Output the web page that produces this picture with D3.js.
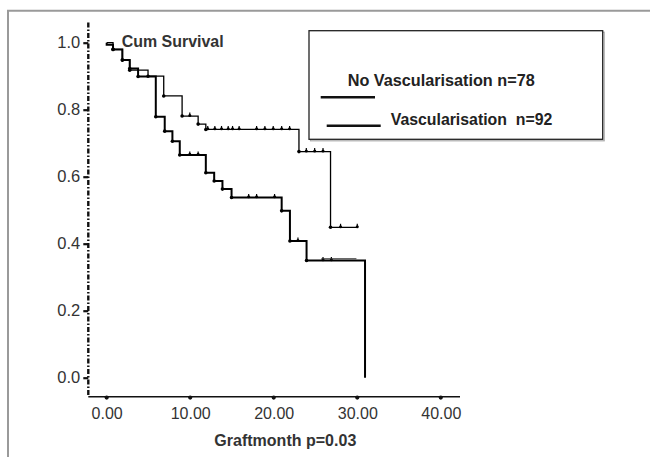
<!DOCTYPE html>
<html>
<head>
<meta charset="utf-8">
<script src="https://cdn.jsdelivr.net/npm/d3@7"></script>
<style>
  html, body { margin: 0; padding: 0; background: #fff; }
  svg { display: block; }
  text { font-family: "Liberation Sans", Arial, sans-serif; }
</style>
</head>
<body>
<svg id="chart" width="650" height="457"></svg>
<script>
// Kaplan–Meier survival by graft month

// Vascularisation group (n=92): step times and survival after each step
const vascTimes = [0, 0.76, 1.88, 2.76, 4.95, 6.83, 9.03, 10.95, 11.87, 23.02, 26.8];
const vascSurv  = [1.0, 0.980, 0.948, 0.918, 0.900, 0.841, 0.781, 0.757, 0.741, 0.675, 0.449];
const vascEnd = 30.0;
const vascCensored = [9.95, 12.1, 12.95, 13.75, 14.55, 15.07, 15.86, 17.95, 18.94, 19.94, 20.95, 21.9,
                      23.9, 24.9, 25.9, 28.0, 30.0];

// No vascularisation group (n=78)
const noVascTimes = [0, 0.76, 1.88, 2.76, 3.76, 5.88, 6.95, 7.87, 8.75, 11.87, 12.87, 13.86, 14.95,
                     20.95, 21.94, 23.93, 30.93];
const noVascSurv  = [0.994, 0.980, 0.948, 0.923, 0.899, 0.779, 0.736, 0.706, 0.665, 0.612, 0.587,
                     0.563, 0.538, 0.498, 0.408, 0.350, 0.0];
const noVascEnd = 30.93;
const noVascCensored = [9.95, 10.95, 17.0, 17.95, 20.1, 22.9, 25.9, 26.9];
// short overlapping tail drawn at the last plateau
const noVascTail = { from: 25.7, to: 29.9, surv: 0.355 };

const xTicks = [0, 10, 20, 30, 40];
const yTicks = [0, 0.2, 0.4, 0.6, 0.8, 1.0];
const xExtent = [-2.2, 42.3];
const yExtent = [-0.057, 1.06];

const svg = d3.select("#chart");

const x = d3.scaleLinear().domain(xExtent).range([88.3, 460]);
const y = d3.scaleLinear().domain([0, 1]).range([377.7, 42.7]);

// outer frame
svg.append("path")
  .attr("d", "M8,457 V10.7 H650")
  .attr("fill", "none").attr("stroke", "#9a9a9a").attr("stroke-width", 2);

// y axis
const yAxis = svg.append("g")
  .attr("transform", `translate(${x(xExtent[0])},0)`)
  .call(d3.axisLeft(y).tickValues(yTicks).tickFormat(d3.format(".1f")).tickSize(5).tickPadding(3));
yAxis.select(".domain").remove();
yAxis.selectAll(".tick line").attr("stroke", "#111").attr("stroke-width", 2.2);
yAxis.selectAll(".tick text")
  .attr("fill", "#333").style("font-size", "16.5px");

svg.append("line")
  .attr("x1", x(xExtent[0])).attr("x2", x(xExtent[0]))
  .attr("y1", y(yExtent[1])).attr("y2", y(yExtent[0]))
  .attr("stroke", "#111").attr("stroke-width", 2.4)
  .attr("stroke-dasharray", "5,2,1.5,2");

// x axis
const xAxis = svg.append("g")
  .attr("transform", `translate(0,${y(yExtent[0])})`)
  .call(d3.axisBottom(x).tickValues(xTicks).tickFormat(d3.format(".2f")).tickSize(0).tickPadding(11));
xAxis.select(".domain").remove();
xAxis.selectAll(".tick text").attr("fill", "#333").style("font-size", "16px");

svg.append("line")
  .attr("x1", x(xExtent[0])).attr("x2", x(xExtent[1]))
  .attr("y1", y(yExtent[0])).attr("y2", y(yExtent[0]))
  .attr("stroke", "#111").attr("stroke-width", 1.6);

svg.append("g").selectAll("circle").data(xTicks).join("circle")
  .attr("cx", d => x(d)).attr("cy", y(yExtent[0]) + 0.8).attr("r", 2.1).attr("fill", "#111");

// step path helper
function stepPoints(times, surv, end) {
  const pts = [[times[0], 1.0]];
  times.forEach((t, i) => {
    pts.push([t, i === 0 ? 1.0 : surv[i - 1]]);
    pts.push([t, surv[i]]);
  });
  if (end > times[times.length - 1]) pts.push([end, surv[surv.length - 1]]);
  return pts;
}
function survAt(times, surv, t) {
  let s = 1.0;
  times.forEach((tt, i) => { if (tt <= t) s = surv[i]; });
  return s;
}
const line = d3.line().x(d => x(d[0])).y(d => y(d[1]));

function drawCurve(times, surv, end, censored, width) {
  const g = svg.append("g");
  g.append("path")
    .attr("d", line(stepPoints(times, surv, end)))
    .attr("fill", "none").attr("stroke", "#000").attr("stroke-width", width)
    .attr("stroke-linejoin", "miter");
  // event corner dots
  g.selectAll("circle.ev").data(times.slice(1).filter((t, i) => surv[i + 1] > 0))
    .join("circle").attr("class", "ev")
    .attr("cx", t => x(t)).attr("cy", t => y(survAt(times, surv, t)))
    .attr("r", 1.8).attr("fill", "#000");
  // censor ticks
  const c = g.selectAll("g.cens").data(censored).join("g").attr("class", "cens")
    .attr("transform", t => `translate(${x(t)},${y(survAt(times, surv, t))})`);
  c.append("line").attr("x1", 0).attr("x2", 0).attr("y1", -3.5).attr("y2", 0)
    .attr("stroke", "#000").attr("stroke-width", 1.2);
  c.append("circle").attr("cy", -0.6).attr("r", 1.5).attr("fill", "#000");
}

drawCurve(vascTimes, vascSurv, vascEnd, vascCensored, 1.3);
drawCurve(noVascTimes, noVascSurv, noVascEnd, noVascCensored, 2.0);

svg.append("line")
  .attr("x1", x(noVascTail.from)).attr("x2", x(noVascTail.to))
  .attr("y1", y(noVascTail.surv)).attr("y2", y(noVascTail.surv))
  .attr("stroke", "#333").attr("stroke-width", 1);

// labels
svg.append("text").attr("x", 121.7).attr("y", 46.5)
  .attr("font-weight", "bold").attr("fill", "#333").style("font-size", "16px")
  .attr("textLength", 102).attr("lengthAdjust", "spacingAndGlyphs")
  .text("Cum Survival");

svg.append("text").attr("x", 214.3).attr("y", 446)
  .attr("font-weight", "bold").attr("fill", "#333").style("font-size", "17px")
  .attr("textLength", 142).attr("lengthAdjust", "spacingAndGlyphs")
  .text("Graftmonth p=0.03");

// legend
const legend = svg.append("g");
legend.append("rect").attr("x", 310.5).attr("y", 32.2).attr("width", 293.7).attr("height", 108.6)
  .attr("fill", "none").attr("stroke", "#aaa").attr("stroke-width", 1.2);
legend.append("rect").attr("x", 309).attr("y", 30.7).attr("width", 293.7).attr("height", 108.6)
  .attr("fill", "#fff").attr("stroke", "#222").attr("stroke-width", 1.3);

legend.append("text").attr("x", 347.7).attr("y", 86)
  .attr("font-weight", "bold").attr("fill", "#222").style("font-size", "16px")
  .attr("textLength", 187).attr("lengthAdjust", "spacingAndGlyphs")
  .text("No Vascularisation n=78");
legend.append("line").attr("x1", 320.7).attr("x2", 375).attr("y1", 97.3).attr("y2", 97.3)
  .attr("stroke", "#111").attr("stroke-width", 2.6);

legend.append("text").attr("x", 390.7).attr("y", 125)
  .attr("font-weight", "bold").attr("fill", "#222").style("font-size", "16px")
  .attr("textLength", 161.6).attr("lengthAdjust", "spacingAndGlyphs")
  .style("white-space", "pre")
  .text("Vascularisation  n=92");
legend.append("line").attr("x1", 326.7).attr("x2", 380.7).attr("y1", 125.7).attr("y2", 125.7)
  .attr("stroke", "#111").attr("stroke-width", 2.4);
</script>
</body>
</html>
